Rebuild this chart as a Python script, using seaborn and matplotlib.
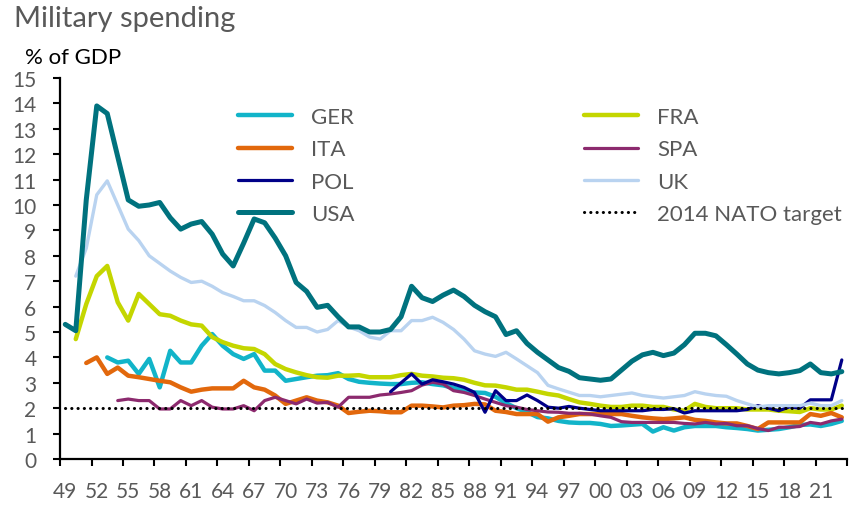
import numpy as np
import pandas as pd
import matplotlib
matplotlib.use("Agg")
import matplotlib.pyplot as plt
import seaborn as sns

years = list(range(1949, 2024))
nan = np.nan

usa = [5.3, 5.05, 10.2, 13.9, 13.6, 11.9, 10.2, 9.95, 10.0, 10.1,
       9.5, 9.05, 9.25, 9.35, 8.85, 8.07, 7.6, 8.5, 9.45, 9.3,
       8.7, 8.0, 6.95, 6.6, 5.97, 6.05, 5.6, 5.2, 5.2, 5.0,
       5.0, 5.1, 5.6, 6.8, 6.35, 6.2, 6.45, 6.65, 6.4, 6.05,
       5.8, 5.6, 4.9, 5.05, 4.55, 4.2, 3.9, 3.6, 3.45, 3.2,
       3.15, 3.1, 3.15, 3.5, 3.85, 4.1, 4.2, 4.07, 4.17, 4.5,
       4.95, 4.95, 4.85, 4.5, 4.13, 3.74, 3.5, 3.4, 3.35, 3.4,
       3.48, 3.74, 3.4, 3.35, 3.44]
uk = [nan, 7.2, 8.3, 10.4, 10.95, 10.0, 9.05, 8.6, 8.0, 7.7,
      7.4, 7.15, 6.95, 7.0, 6.8, 6.55, 6.4, 6.23, 6.23, 6.04,
      5.77, 5.45, 5.18, 5.18, 5.0, 5.1, 5.45, 5.2, 5.05, 4.8,
      4.72, 5.05, 5.05, 5.45, 5.45, 5.58, 5.38, 5.1, 4.72, 4.26,
      4.13, 4.04, 4.2, 3.94, 3.67, 3.4, 2.9, 2.76, 2.63, 2.5,
      2.5, 2.45, 2.5, 2.55, 2.6, 2.5, 2.45, 2.4, 2.45, 2.5,
      2.65, 2.56, 2.5, 2.47, 2.3, 2.17, 2.05, 2.1, 2.1, 2.1,
      2.1, 2.2, 2.1, 2.1, 2.3]
fra = [nan, 4.72, 6.1, 7.2, 7.6, 6.17, 5.45, 6.5, 6.1, 5.7,
       5.64, 5.45, 5.3, 5.25, 4.8, 4.6, 4.46, 4.36, 4.33, 4.13,
       3.74, 3.54, 3.41, 3.3, 3.22, 3.2, 3.28, 3.28, 3.3, 3.22,
       3.22, 3.22, 3.3, 3.35, 3.28, 3.25, 3.2, 3.18, 3.12, 3.0,
       2.9, 2.89, 2.82, 2.73, 2.73, 2.65, 2.56, 2.5, 2.36, 2.23,
       2.17, 2.1, 2.05, 2.05, 2.1, 2.1, 2.05, 2.05, 1.95, 1.9,
       2.17, 2.05, 2.0, 2.0, 2.0, 1.95, 1.95, 1.95, 1.9, 1.88,
       1.85, 2.0, 1.95, 1.95, 2.1]
ger = [nan, nan, nan, nan, 4.0, 3.8, 3.87, 3.35, 3.94, 2.82,
       4.26, 3.8, 3.8, 4.46, 4.92, 4.46, 4.13, 3.94, 4.13, 3.48,
       3.48, 3.08, 3.15, 3.22, 3.28, 3.3, 3.38, 3.15, 3.04, 3.0,
       2.97, 2.95, 2.95, 3.0, 3.02, 2.95, 2.9, 2.8, 2.7, 2.62,
       2.6, 2.45, 2.2, 2.0, 1.85, 1.65, 1.6, 1.5, 1.44, 1.42,
       1.42, 1.38, 1.3, 1.32, 1.35, 1.38, 1.08, 1.25, 1.12, 1.25,
       1.3, 1.3, 1.3, 1.25, 1.22, 1.18, 1.12, 1.15, 1.18, 1.25,
       1.34, 1.36, 1.3, 1.38, 1.5]
ita = [nan, nan, 3.78, 4.0, 3.35, 3.6, 3.28, 3.22, 3.15, 3.08,
       3.02, 2.82, 2.65, 2.73, 2.78, 2.78, 2.78, 3.08, 2.82, 2.73,
       2.5, 2.17, 2.3, 2.43, 2.3, 2.23, 2.1, 1.81, 1.86, 1.9,
       1.88, 1.84, 1.84, 2.1, 2.1, 2.07, 2.03, 2.1, 2.12, 2.17,
       2.15, 1.9, 1.85, 1.77, 1.77, 1.77, 1.47, 1.64, 1.7, 1.77,
       1.77, 1.77, 1.77, 1.77, 1.7, 1.64, 1.6, 1.57, 1.6, 1.64,
       1.54, 1.5, 1.44, 1.4, 1.4, 1.3, 1.18, 1.44, 1.44, 1.44,
       1.44, 1.77, 1.7, 1.81, 1.64]
spa = [nan, nan, nan, nan, nan, 2.3, 2.36, 2.3, 2.3, 1.97,
       1.97, 2.3, 2.1, 2.3, 2.04, 1.97, 1.97, 2.1, 1.9, 2.3,
       2.43, 2.3, 2.17, 2.36, 2.2, 2.23, 2.04, 2.43, 2.43, 2.43,
       2.52, 2.56, 2.62, 2.69, 2.91, 3.02, 2.95, 2.69, 2.62, 2.5,
       2.36, 2.23, 2.1, 2.04, 1.95, 1.9, 1.85, 1.84, 1.8, 1.8,
       1.77, 1.7, 1.64, 1.47, 1.44, 1.44, 1.44, 1.44, 1.44, 1.4,
       1.38, 1.44, 1.38, 1.4, 1.31, 1.31, 1.2, 1.12, 1.25, 1.25,
       1.28, 1.44, 1.38, 1.5, 1.57]
pol = [nan] * 31 + [
       2.65, 3.0, 3.35, 2.95, 3.12, 3.04, 2.95, 2.82, 2.62,
       1.84, 2.69, 2.3, 2.3, 2.52, 2.3, 2.04, 2.0, 2.07, 2.0,
       1.95, 1.9, 1.9, 1.9, 1.9, 1.9, 1.95, 1.95, 1.98, 1.81,
       1.9, 1.9, 1.9, 1.9, 1.9, 1.95, 2.1, 2.0, 1.9, 2.05,
       2.0, 2.33, 2.33, 2.33, 3.9]
nato_target = 2.0

series_names = ["GER", "FRA", "ITA", "SPA", "POL", "UK", "USA"]
series_values = [ger, fra, ita, spa, pol, uk, usa]
colors = {"GER": "#12b4c9", "FRA": "#c4d600", "ITA": "#e2680c", "SPA": "#8c2a6e",
          "POL": "#000088", "UK": "#b9d3f0", "USA": "#00727e"}
widths = {"GER": 3.2, "FRA": 3.2, "ITA": 3.2, "SPA": 2.3, "POL": 2.3, "UK": 2.4, "USA": 3.6}

df = pd.DataFrame({"year": years})
for n, v in zip(series_names, series_values):
    df[n] = v
df["NATO"] = [nato_target] * len(years)

sns.set_style("white")
plt.rcParams["font.family"] = ["Lato", "DejaVu Sans"]

fig = plt.figure(figsize=(8.49, 5.06), dpi=100)
ax = fig.add_axes([0.0707, 0.0909, 0.927, 0.753])

handles = {}
for n in series_names:
    sns.lineplot(data=df, x="year", y=n, ax=ax, color=colors[n], linewidth=widths[n],
                 label=n, solid_capstyle="round", solid_joinstyle="round")
    handles[n] = ax.get_lines()[-1]
sns.lineplot(data=df, x="year", y="NATO", ax=ax, color="black", linewidth=2.2,
             label="2014 NATO target")
nl = ax.get_lines()[-1]
nl.set_linestyle((0, (0.05, 2.0)))
nl.set_dash_capstyle("round")
handles["NATO"] = nl

ax.set_xlim(1948.5, 2023.5)
ax.set_ylim(0, 15)
ax.set_xlabel("")
ax.set_ylabel("")

grey = "#595959"
ax.set_yticks(range(0, 16))
ax.tick_params(axis="y", which="major", direction="out", length=5, width=1.5,
               color="black", labelsize=15, labelcolor=grey, pad=12, left=True)
ax.set_xticks(np.arange(1948.5, 2024, 3))
ax.set_xticklabels([])
ax.tick_params(axis="x", which="major", direction="out", length=5, width=1.5,
               color="black", bottom=True)
ax.set_xticks(np.arange(1949, 2022, 3), minor=True)
ax.set_xticklabels([f"{y % 100:02d}" for y in range(1949, 2022, 3)], minor=True)
ax.tick_params(axis="x", which="minor", length=0, labelsize=15, labelcolor=grey, pad=16)

for s in ["top", "right"]:
    ax.spines[s].set_visible(False)
for s in ["left", "bottom"]:
    ax.spines[s].set_color("black")
    ax.spines[s].set_linewidth(1.6)

order = ["GER", "ITA", "POL", "USA", "FRA", "SPA", "UK", "NATO"]
labels = {"NATO": "2014 NATO target"}
leg = ax.legend([handles[k] for k in order], [labels.get(k, k) for k in order],
                ncol=2, frameon=False, loc="upper left", bbox_to_anchor=(0.226, 0.924),
                borderaxespad=0, borderpad=0,
                fontsize=16, labelcolor=grey, handlelength=2.45, handletextpad=0.85,
                columnspacing=10.3, labelspacing=0.56)

fig.text(0.016, 0.963, "Military spending", fontsize=21, color=grey, va="center", ha="left")
fig.text(0.029, 0.886, "% of GDP", fontsize=16, color="black", va="center", ha="left")

fig.savefig("out.png", dpi=100)
